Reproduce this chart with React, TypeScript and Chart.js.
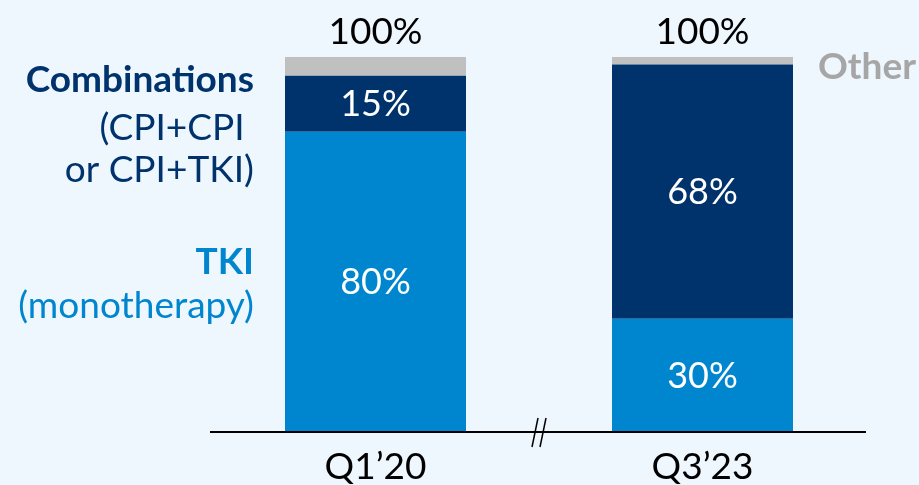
import React, { useEffect, useRef } from "react";
import { Chart, registerables } from "chart.js";

Chart.register(...registerables);

const categories = ["Q1\u201920", "Q3\u201923"];
const tkiValues = [80, 30];
const comboValues = [15, 68];
const otherValues = [5, 2];
const totalLabels = ["100%", "100%"];

const BG = "#EEF6FE";
const NAVY = "#00336C";
const BLUE = "#0086CF";
const GREY = "#C0C0C0";
const FONT = "Lato, 'Noto Sans', sans-serif";

const overlayPlugin = {
  id: "overlay",
  beforeDraw(chart: any) {
    const { ctx } = chart;
    ctx.save();
    ctx.fillStyle = BG;
    ctx.fillRect(0, 0, chart.width, chart.height);
    ctx.restore();
  },
  afterDatasetsDraw(chart: any) {
    const { ctx, chartArea, scales } = chart;
    const x = scales.x;
    const y = scales.y;
    ctx.save();
    // axis line
    ctx.strokeStyle = "#000";
    ctx.lineWidth = 2;
    ctx.beginPath();
    ctx.moveTo(chartArea.left - 2, y.getPixelForValue(0) + 1);
    ctx.lineTo(chartArea.right, y.getPixelForValue(0) + 1);
    ctx.stroke();
    // break mark
    const mid = (chartArea.left + chartArea.right) / 2;
    const by = y.getPixelForValue(0) + 1;
    ctx.lineWidth = 1.5;
    [-4, 4].forEach((off) => {
      ctx.beginPath();
      ctx.moveTo(mid + off - 3, by + 15);
      ctx.lineTo(mid + off + 3, by - 14);
      ctx.stroke();
    });

    ctx.textAlign = "center";
    ctx.textBaseline = "middle";
    ctx.font = `36px ${FONT}`;
    // segment labels
    const sets = [tkiValues, comboValues];
    categories.forEach((cat, i) => {
      const cx = x.getPixelForValue(i);
      let base = 0;
      sets.forEach((arr) => {
        const v = arr[i];
        const y0 = y.getPixelForValue(base);
        const y1 = y.getPixelForValue(base + v);
        ctx.fillStyle = "#fff";
        ctx.fillText(`${v}%`, cx, (y0 + y1) / 2 + 1);
        base += v;
      });
      ctx.fillStyle = "#000";
      ctx.font = `37px ${FONT}`;
      ctx.fillText(totalLabels[i], cx, y.getPixelForValue(100) - 25);
      ctx.fillText(cat, cx, y.getPixelForValue(0) + 36);
      ctx.font = `36px ${FONT}`;
    });

    // left labels
    ctx.textAlign = "right";
    const lx = chartArea.left + 42;
    ctx.fillStyle = NAVY;
    ctx.font = `bold 37px ${FONT}`;
    ctx.fillText("Combinations", lx, 80);
    ctx.font = `37px ${FONT}`;
    ctx.fillText("(CPI+CPI ", lx, 128);
    ctx.fillText("or CPI+TKI)", lx, 170);
    ctx.fillStyle = BLUE;
    ctx.font = `bold 37px ${FONT}`;
    ctx.fillText("TKI", lx, 262);
    ctx.font = `37px ${FONT}`;
    ctx.fillText("(monotherapy)", lx, 306);

    // Other
    ctx.textAlign = "left";
    ctx.fillStyle = "#A6A6A6";
    ctx.font = `bold 37px ${FONT}`;
    ctx.fillText("Other", chartArea.right - 48, 67);
    ctx.restore();
  },
};

export default function App() {
  const ref = useRef<HTMLCanvasElement>(null);
  useEffect(() => {
    if (!ref.current) return;
    const chart = new Chart(ref.current, {
      type: "bar",
      data: {
        labels: categories,
        datasets: [
          { label: "TKI", data: tkiValues, backgroundColor: BLUE, borderWidth: 0 },
          { label: "Combinations", data: comboValues, backgroundColor: NAVY, borderWidth: 0 },
          { label: "Other", data: otherValues, backgroundColor: GREY, borderWidth: 0 },
        ],
      },
      options: {
        responsive: false,
        animation: false,
        devicePixelRatio: 1,
        layout: { padding: { left: 212, right: 53, top: 57, bottom: 54 } },
        datasets: { bar: { barPercentage: 0.5535, categoryPercentage: 1 } },
        plugins: { legend: { display: false }, tooltip: { enabled: false } },
        scales: {
          x: { display: false, stacked: true },
          y: { display: false, stacked: true, min: 0, max: 100 },
        },
      },
      plugins: [overlayPlugin],
    });
    return () => chart.destroy();
  }, []);
  return (
    <div style={{ position: "fixed", left: 0, top: 0, width: 919, height: 485, background: BG }}>
      <canvas ref={ref} width={919} height={485} style={{ display: "block", width: 919, height: 485 }} />
    </div>
  );
}
